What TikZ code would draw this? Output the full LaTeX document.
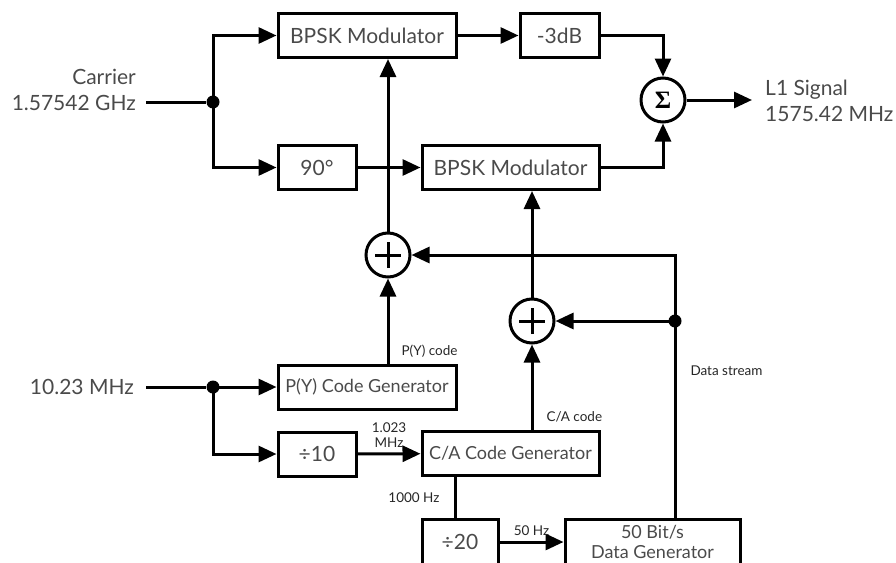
\documentclass[tikz,border=0pt]{standalone}
\usepackage{fontspec}
\setmainfont{Lato}
\newfontfamily\sigmafont{Liberation Serif}
\usepackage{tikz}
\usetikzlibrary{arrows.meta, positioning}

\definecolor{txtgray}{HTML}{4A4A4A}

\tikzset{
  block/.style={draw, line width=3pt, minimum height=44pt, inner sep=0pt,
    font=\fontsize{21}{24}\selectfont, text=txtgray},
  codebox/.style={block, font=\fontsize{18}{20}\selectfont},
  mixer/.style={draw, circle, line width=3pt, minimum size=44pt, inner sep=0pt},
  xorsign/.style={mixer, path picture={
      \draw[line width=3pt] ([xshift=-13pt]path picture bounding box.center) -- ([xshift=13pt]path picture bounding box.center);
      \draw[line width=3pt] ([yshift=-13pt]path picture bounding box.center) -- ([yshift=13pt]path picture bounding box.center);}},
  dot/.style={circle, fill, minimum size=13pt, inner sep=0pt},
  big/.style={font=\fontsize{21}{26}\selectfont, text=txtgray, inner sep=0pt},
  small/.style={font=\fontsize{13.5}{15}\selectfont, text=black!85, inner sep=0pt},
  sig/.style={line width=3pt, -{Triangle[length=18pt, width=16pt]}},
  wire/.style={line width=3pt}
}

\begin{document}
\begin{tikzpicture}[x=1pt, y=-1pt]
        \useasboundingbox (0,0) rectangle (896,562);
        \clip (0,0) rectangle (896,562);

        % Carrier path
        \node[big, anchor=east, align=right] (carrier) at (136,90) {Carrier\\1.57542 GHz};
        \coordinate (cin) at (146,102);
        \node[dot] (split1) at (213,102) {};
        \node[block, minimum width=178pt] (bpsk1) at (367,35.5) {BPSK Modulator};
        \node[block, minimum width=79pt] (att) at (559.5,35.5) {-3dB};
        \node[block, minimum width=78pt] (shift) at (317,167.5) {90°};
        \node[block, minimum width=177pt] (bpsk2) at (510.5,167.5) {BPSK Modulator};
        \node[mixer] (sum) at (663,100) {\sigmafont\bfseries\fontsize{25}{25}\selectfont Σ};
        \coordinate (l1out) at (752,100);
        \node[big, anchor=west, align=left] (l1) at (765,101) {L1 Signal\\1575.42 MHz};

        % Code path
        \node[xorsign] (xor1) at (388,255) {};
        \node[xorsign] (xor2) at (532,321) {};
        \node[big, anchor=east] (clock) at (134,387) {10.23 MHz};
        \coordinate (cin2) at (146,387);
        \node[dot] (split2) at (213,387) {};
        \node[codebox, minimum width=178pt] (pygen) at (367,387) {P(Y) Code Generator};
        \node[block, minimum width=78pt] (div10) at (317,454) {÷10};
        \node[codebox, minimum width=177pt] (cagen) at (510.5,453.5) {C/A Code Generator};
        \node[block, minimum width=76pt, minimum height=46pt] (div20) at (460,542) {÷20};
        \node[codebox, minimum width=175pt, minimum height=46pt, align=center] (datagen) at (652.5,542) {50 Bit/s\\Data Generator};
        \node[dot] (tap) at (675,321) {};

        % Arrows carrier
        \draw[wire] (cin) -- (split1);
        \draw[sig] (split1.center) |- (bpsk1.west);
        \draw[sig] (split1.center) |- (shift.west);
        \draw[sig] (bpsk1) -- (att);
        \draw[sig] (att.east) -| (sum.north);
        \draw[sig] (shift) -- (bpsk2);
        \draw[sig] (bpsk2.east) -| (sum.south);
        \draw[sig] (sum) -- (l1out);

        % Arrows codes
        \draw[sig] (xor1.north) -- (xor1.north |- bpsk1.south);
        \draw[sig] (xor2.north) -- (xor2.north |- bpsk2.south);
        \draw[sig] (pygen.north -| xor1) -- (xor1.south)
          node[small, pos=0, anchor=south west, xshift=12pt, yshift=5pt] {P(Y) code};
        \draw[sig] (cagen.north -| xor2) -- (xor2.south)
          node[small, pos=0, anchor=south west, xshift=13pt, yshift=6pt] {C/A code};
        \draw[wire] (cin2) -- (split2);
        \draw[sig] (split2.center) -- (pygen.west);
        \draw[sig] (split2.center) |- (div10.west);
        \draw[sig] (div10) -- (cagen)
          node[small, midway, above=5pt, align=center, font=\fontsize{13.5}{15}\selectfont] {1.023\\MHz};
        \draw[wire] ([xshift=-5pt]div20.north) -- ([xshift=-5pt]div20.north |- cagen.south)
          node[small, midway, left=14pt] {1000 Hz};
        \draw[sig] (div20) -- (datagen)
          node[small, midway, above=5pt] {50 Hz};
        \draw[sig] (datagen.north -| tap) |- (xor1.east)
          node[small, pos=0.28, right=14pt] {Data stream};
        \draw[sig] (tap.center) -- (xor2.east);
    \end{tikzpicture}
\end{document}
